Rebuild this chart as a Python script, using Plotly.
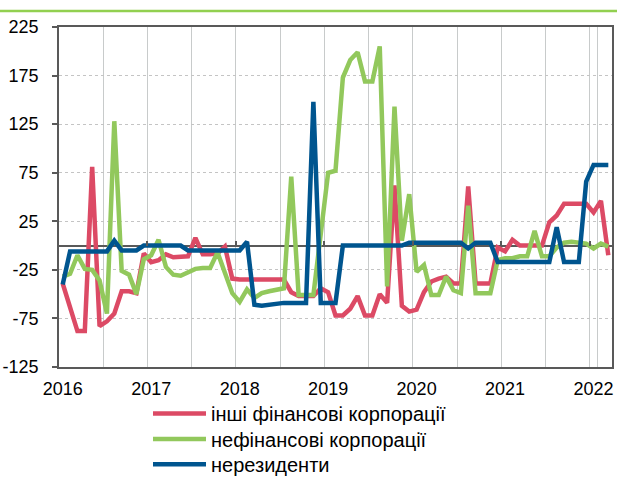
import plotly.graph_objects as go

# categories: monthly, Jan 2016 .. Mar 2022
years = [2016, 2017, 2018, 2019, 2020, 2021, 2022]
months = [f"{y}-{m:02d}" for y in years for m in range(1, 13)][:75]

series_names = ["інші фінансові корпорації", "нефінансові корпорації", "нерезиденти"]

other_fin = [-39, -63, -88, -88, 81, -83, -78, -70, -47, -47, -49, -8,
             -17, -15, -9, -12, -11, -11, 8, -9, -9, -8, -1, -34,
             -35, -35, -35, -35, -35, -35, -35, -48, -52, -52, -52, -44,
             -48, -72, -72, -65, -52, -72, -72, -50, -59, 62, -62, -68,
             -66, -48, -37, -34, -32, -39, -39, 61, -39, -39, -39, -2,
             -6, 6, 0, 0, 0, 0, 24, 31, 43, 43, 43, 43,
             34, 46, -10]

non_fin = [-32, -29, -10, -24, -25, -36, -70, 128, -26, -30, -50, -14,
           -10, 6, -22, -30, -31, -27, -24, -23, -23, -7, -27, -49,
           -58, -45, -54, -49, -47, -46, -44, 71, -51, -51, -51, 12,
           75, 77, 173, 191, 199, 169, 169, 205, -42, 143, 5, 53,
           -27, -20, -51, -51, -32, -46, -49, 41, -49, -49, -49, -15,
           -13, -13, -11, -11, 15, -11, -11, -2, 3, 4, 3, 2,
           -3, 2, -1]

nonres = [-40, -6, -6, -6, -6, -6, -6, 5, -5, -5, -5, 0,
          0, 0, 0, 0, 0, -5, -5, -5, -5, -5, -5, -5,
          -5, 4, -61, -62, -61, -59, -59, -59, -59, -59, 148, -59,
          -59, -59, 0, 0, 0, 0, 0, 0, 0, 0, 0, 3,
          3, 3, 3, 3, 3, 3, 3, -3, 3, 3, 3, -17,
          -17, -17, -17, -17, -17, -17, -17, 19, -17, -17, -17, 66,
          83, 83, 83]

y_ticks = [-125, -75, -25, 25, 75, 125, 175, 225]

colors = ["#DC4A65", "#92C85C", "#00558F"]
FONT = "Liberation Sans, Arial, sans-serif"
AXIS = "#595959"

W, H = 617, 477
L, T, R, B = 59, 27, 5, 109.5
PW = W - L - R
PH = H - T - B


def px_x(x):
    return (x - L) / PW


def px_y(y):
    return (H - B - y) / PH


fig = go.Figure()
for name, vals, col in zip(series_names, [other_fin, non_fin, nonres], colors):
    fig.add_trace(go.Scatter(x=months, y=vals, name=name, mode="lines",
                             line=dict(color=col, width=4.5),
                             showlegend=False, hoverinfo="skip"))

tickvals = months[::6]
ticktext = [m[:4] if m.endswith("-01") else "" for m in tickvals]

fig.update_layout(
    width=W, height=H,
    margin=dict(l=L, r=R, t=T, b=B, pad=0, autoexpand=False),
    paper_bgcolor="white", plot_bgcolor="white",
    font=dict(family=FONT, size=18, color="black"),
    showlegend=False,
    xaxis=dict(type="category", range=[-0.5, 74.5], tickvals=tickvals, ticktext=ticktext,
               tickson="boundaries", showgrid=True, gridcolor="#C8CBCB", gridwidth=1.3,
               ticks="", showline=True, mirror=True, linecolor=AXIS, linewidth=1.8,
               tickfont=dict(size=18, color="black"), ticklabelstandoff=4,
               tickangle=0, automargin=False, zeroline=False),
    yaxis=dict(range=[-125, 225], tickvals=y_ticks, ticktext=[str(v) for v in y_ticks],
               showgrid=True, gridcolor="#C4C4C4", gridwidth=1, griddash="dot",
               zeroline=True, zerolinecolor=AXIS, zerolinewidth=1.8,
               showline=True, mirror=True, linecolor=AXIS, linewidth=1.8,
               ticks="outside", ticklen=5, tickcolor=AXIS, tickwidth=1.5,
               tickfont=dict(size=18, color="black"), ticklabelstandoff=10,
               automargin=False),
    xaxis2=dict(overlaying="x", anchor="free", position=125 / 350, range=[-0.5, 74.5],
                tickvals=[11.5, 23.5, 35.5, 47.5, 59.5, 71.5], ticks="inside", ticklen=5,
                tickcolor=AXIS, tickwidth=1.5, showticklabels=False, showgrid=False,
                showline=False, zeroline=False, automargin=False),
)

# legend (below the plot): swatch lines + labels
legend_rows = [415, 440.5, 466]
for name, col, ry in zip(series_names, colors, legend_rows):
    fig.add_shape(type="line", xref="paper", yref="paper",
                  x0=px_x(153), x1=px_x(206), y0=px_y(ry - 1), y1=px_y(ry - 1),
                  line=dict(color=col, width=4.5))
    fig.add_annotation(xref="paper", yref="paper", x=px_x(209), y=px_y(ry),
                       xanchor="left", yanchor="middle", showarrow=False, text=name,
                       font=dict(size=20, family=FONT, color="black"))

# decorative green rule at the top of the figure
fig.add_shape(type="line", xref="paper", yref="paper",
              x0=px_x(0), x1=px_x(W), y0=px_y(11), y1=px_y(11),
              line=dict(color="#92D050", width=2.5))
# invisible helper trace to activate the tick axis at zero
fig.add_trace(go.Scatter(x=[0], y=[0], xaxis="x2", mode="markers", marker=dict(opacity=0),
                         showlegend=False, hoverinfo="skip"))

fig.write_html("out.html", post_script="document.body.style.margin='0';",
               config={"displayModeBar": False})
